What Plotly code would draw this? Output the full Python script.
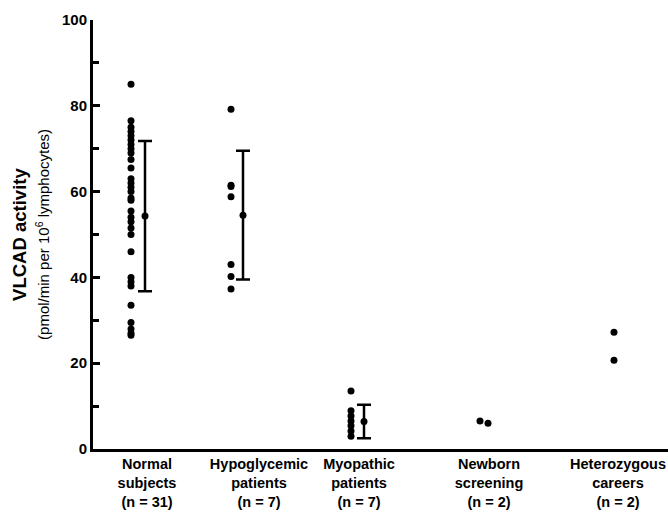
import plotly.graph_objects as go

# ---- data ----
groups = ["Normal<br>subjects<br>(n = 31)", "Hypoglycemic<br>patients<br>(n = 7)",
          "Myopathic<br>patients<br>(n = 7)", "Newborn<br>screening<br>(n = 2)",
          "Heterozygous<br>careers<br>(n = 2)"]
normal = [85, 76.5, 75, 74, 73, 72, 71, 70, 69, 67.5, 65.5, 63, 62, 61, 60, 58.5, 58,
          55.5, 54, 53, 51.5, 50, 46, 40, 39, 38, 33.5, 29.5, 28, 27, 26.5]
hypoglycemic = [79.2, 61.5, 61.2, 58.8, 43, 40.2, 37.3]
myopathic = [13.5, 8.9, 7.7, 6.5, 5.4, 4.2, 3.0]
newborn = [6.5, 6.0]
heterozygous = [27.2, 20.7]
means = [54.3, 54.5, 6.4]
sds = [17.5, 15.0, 3.9]

# ---- layout positions (axis units) ----
label_pos = [54, 166, 266, 396, 525]
dot_pos = [38, 138, 258, 391, 521]
bar_pos = [52, 150, 271]
newborn_spread = [-4, 4]

fig = go.Figure()
mk = dict(color="black", size=7)
series = [normal, hypoglycemic, myopathic, heterozygous]
pos = [dot_pos[0], dot_pos[1], dot_pos[2], dot_pos[4]]
for vals, p in zip(series, pos):
    fig.add_trace(go.Scatter(x=[p] * len(vals), y=vals, mode="markers", marker=mk,
                             cliponaxis=False, showlegend=False))
fig.add_trace(go.Scatter(x=[dot_pos[3] + d for d in newborn_spread], y=newborn, mode="markers",
                         marker=mk, cliponaxis=False, showlegend=False))
fig.add_trace(go.Scatter(x=bar_pos, y=means, mode="markers", marker=mk, cliponaxis=False,
                         showlegend=False,
                         error_y=dict(type="data", array=sds, visible=True, color="black",
                                      thickness=2.5, width=7)))

font = dict(family="Liberation Sans, Arial, sans-serif", color="black")
fig.update_layout(
    width=668, height=515,
    margin=dict(l=93, r=0, t=20, b=66),
    plot_bgcolor="white", paper_bgcolor="white",
    font=font,
    xaxis=dict(range=[0, 575], showgrid=False, zeroline=False, showline=True,
               linecolor="black", linewidth=3, ticks="", tickvals=label_pos,
               ticktext=groups, tickfont=dict(size=14.5, weight="bold", **font)),
    yaxis=dict(range=[0, 100], showgrid=False, zeroline=False, showline=True,
               linecolor="black", linewidth=3, ticks="inside", ticklen=7, tickwidth=3,
               tickcolor="black", tickvals=[0, 20, 40, 60, 80, 100],
               tickfont=dict(size=15, weight="bold", **font),
               minor=dict(ticks="inside", ticklen=6, tickwidth=3, tickcolor="black",
                          tickvals=[10, 30, 50, 70, 90])),
)
fig.add_annotation(text="<b>VLCAD activity</b>", xref="paper", yref="paper",
                   x=-0.128, y=0.5, textangle=-90, showarrow=False,
                   xanchor="center", yanchor="middle", font=dict(size=18.5, **font))
fig.add_annotation(text="(pmol/min per 10<sup>6</sup> lymphocytes)", xref="paper",
                   yref="paper", x=-0.088, y=0.5, textangle=-90, showarrow=False,
                   xanchor="center", yanchor="middle", font=dict(size=15, **font))
fig.write_html("out.html")
